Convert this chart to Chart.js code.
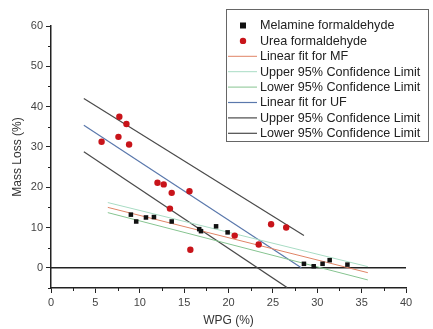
<!DOCTYPE html>
<html>
<head>
<meta charset="utf-8">
<script src="https://cdn.jsdelivr.net/npm/chart.js@4/dist/chart.umd.min.js"></script>
<style>
  body { margin: 0; background: #fff; }
</style>
</head>
<body>
<canvas id="chart" width="433" height="329"></canvas>
<script>
const mfX = [9.0, 9.6, 10.7, 11.6, 13.6, 16.7, 16.9, 18.6, 19.9, 28.5, 29.6, 30.6, 31.4, 33.4];
const mfY = [13.2, 11.5, 12.5, 12.6, 11.5, 9.6, 9.1, 10.3, 8.8, 1.0, 0.4, 1.0, 1.9, 0.8];
const ufX = [5.7, 7.6, 7.7, 8.5, 8.8, 12.0, 12.7, 13.4, 13.6, 15.6, 15.7, 20.7, 23.4, 24.8, 26.5];
const ufY = [31.3, 32.5, 37.5, 35.7, 30.6, 21.1, 20.7, 14.7, 18.6, 19.0, 4.5, 8.0, 5.8, 10.8, 10.0];

// 직선 끝점 [x0, y0, x1, y1]
const mfFit = [6.4, 15.0, 35.7, -1.2];
const mfUpper = [6.4, 16.2, 35.7, 0.3];
const mfLower = [6.4, 13.7, 35.7, -3.0];
const ufFit = [3.7, 35.4, 28.2, 0.0];
const ufUpper = [3.7, 42.0, 28.5, 8.0];
const ufLower = [3.7, 28.8, 26.6, -4.9];
const zeroLine = [0, 0, 40, 0];

// 눈금
const xTicks = [0, 5, 10, 15, 20, 25, 30, 35, 40];
const xMinor = [2.5, 7.5, 12.5, 17.5, 22.5, 27.5, 32.5, 37.5];
const yTicks = [0, 10, 20, 30, 40, 50, 60];
const yMinor = [-5, 5, 15, 25, 35, 45, 55];

const toPoints = (xs, ys) => xs.map((x, i) => ({ x, y: ys[i] }));
const seg = (s) => [{ x: s[0], y: s[1] }, { x: s[2], y: s[3] }];

const lineSet = (label, s, color, width) => ({
  label,
  data: seg(s),
  showLine: true,
  borderColor: color,
  borderWidth: width,
  pointRadius: 0,
  inLegend: label !== "",
});

//보조 눈금 그리기
const minorTicksPlugin = {
  id: "minorTicks",
  afterDraw(chart) {
    const { ctx, scales } = chart;
    const xs = scales.x, ys = scales.y;
    ctx.save();
    ctx.strokeStyle = "#222";
    ctx.lineWidth = 1;
    ctx.beginPath();
    xMinor.forEach((v) => {
      const px = Math.round(xs.getPixelForValue(v)) + 0.5;
      ctx.moveTo(px, ys.bottom);
      ctx.lineTo(px, ys.bottom + 3);
    });
    yMinor.forEach((v) => {
      const py = Math.round(ys.getPixelForValue(v)) + 0.5;
      ctx.moveTo(xs.left, py);
      ctx.lineTo(xs.left - 3, py);
    });
    ctx.stroke();
    ctx.restore();
  },
};

// 차트 안쪽 범례
const boxLegendPlugin = {
  id: "boxLegend",
  afterDraw(chart) {
    const { ctx } = chart;
    const items = chart.data.datasets.filter((d) => d.inLegend);
    ctx.save();
    ctx.strokeStyle = "#666";
    ctx.lineWidth = 1;
    ctx.strokeRect(226.5, 9.5, 202, 132);
    ctx.font = "12.6px 'Liberation Sans', Arial, sans-serif";
    ctx.textBaseline = "middle";
    ctx.fillStyle = "#222";
    items.forEach((d, i) => {
      const y = 25.5 + i * 15.4;
      if (d.showLine) {
        ctx.strokeStyle = d.borderColor;
        ctx.lineWidth = d.borderWidth;
        ctx.beginPath();
        ctx.moveTo(228, y);
        ctx.lineTo(257, y);
        ctx.stroke();
      } else {
        ctx.fillStyle = d.backgroundColor;
        if (d.pointStyle === "rect") {
          ctx.fillRect(240, y - 3, 6, 6);
        } else {
          ctx.beginPath();
          ctx.arc(243, y, 3.2, 0, Math.PI * 2);
          ctx.fill();
        }
      }
      ctx.fillStyle = "#222";
      ctx.fillText(d.label, 260, y + 0.5);
    });
    ctx.restore();
  },
};

const tickFont = { family: "'Liberation Sans', Arial, sans-serif", size: 11 };
const titleFont = { family: "'Liberation Sans', Arial, sans-serif", size: 12 };

new Chart(document.getElementById("chart"), {
  type: "scatter",
  data: {
    datasets: [
      {
        label: "Melamine formaldehyde",
        data: toPoints(mfX, mfY),
        pointStyle: "rect",
        pointRadius: 3.2,
        backgroundColor: "#111",
        borderColor: "#111",
        borderWidth: 0,
        inLegend: true,
      },
      {
        label: "Urea formaldehyde",
        data: toPoints(ufX, ufY),
        pointStyle: "circle",
        pointRadius: 3.2,
        backgroundColor: "#c8141a",
        borderColor: "#c8141a",
        borderWidth: 0,
        inLegend: true,
      },
      lineSet("Linear fit for MF", mfFit, "#e08466", 1),
      lineSet("Upper 95% Confidence Limit", mfUpper, "#a8dcc4", 1),
      lineSet("Lower 95% Confidence Limit", mfLower, "#86c490", 1),
      lineSet("Linear fit for UF", ufFit, "#5a78ac", 1.2),
      lineSet("Upper 95% Confidence Limit", ufUpper, "#4a4a4a", 1.2),
      lineSet("Lower 95% Confidence Limit", ufLower, "#4a4a4a", 1.2),
      lineSet("", zeroLine, "#222", 1.5),
    ],
  },
  options: {
    responsive: false,
    animation: false,
    layout: { padding: { top: 26, right: 27, left: 0, bottom: 0 } },
    plugins: {
      legend: { display: false },
      tooltip: { enabled: false },
    },
    scales: {
      x: {
        type: "linear",
        min: 0,
        max: 40,
        afterBuildTicks: (scale) => { scale.ticks = xTicks.map((v) => ({ value: v })); },
        afterFit: (scale) => { scale.height = 41; },
        grid: { drawOnChartArea: false, drawTicks: true, tickLength: 5, color: "#222", tickWidth: 1 },
        border: { display: true, color: "#222", width: 1.5 },
        ticks: { color: "#444", font: tickFont, padding: 3, maxRotation: 0 },
        title: { display: true, text: "WPG (%)", color: "#333", font: titleFont, padding: { top: 0, bottom: 1 } },
      },
      y: {
        type: "linear",
        min: -5,
        max: 60,
        afterBuildTicks: (scale) => { scale.ticks = yTicks.map((v) => ({ value: v })); },
        afterFit: (scale) => { scale.width = 51; },
        grid: { drawOnChartArea: false, drawTicks: true, tickLength: 5, color: "#222", tickWidth: 1 },
        border: { display: true, color: "#222", width: 1.5 },
        ticks: { color: "#444", font: tickFont, padding: 3 },
        title: { display: true, text: "Mass Loss (%)", color: "#333", font: titleFont, padding: { top: 10, bottom: 0 } },
      },
    },
  },
  plugins: [minorTicksPlugin, boxLegendPlugin],
});
</script>
</body>
</html>
